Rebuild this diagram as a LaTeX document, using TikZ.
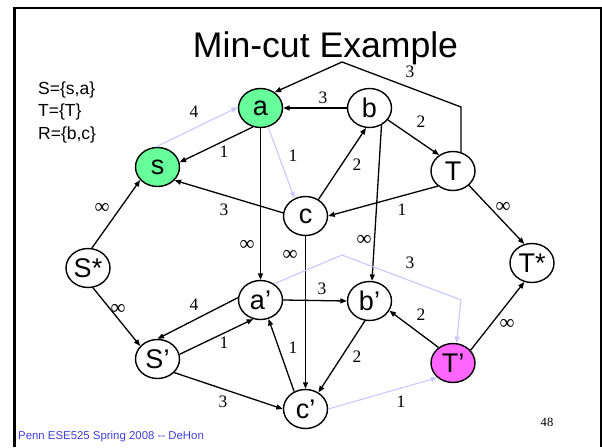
\documentclass[tikz,border=0pt]{standalone}
\usepackage{fontspec}
\setmainfont{Liberation Sans}
\newfontfamily\tms{Liberation Serif}
\usetikzlibrary{shapes.geometric,arrows.meta}
\definecolor{ngreen}{RGB}{102,255,153}
\definecolor{nmag}{RGB}{255,102,255}
\definecolor{lblue}{RGB}{200,200,255}
\definecolor{foot}{RGB}{64,64,224}
\begin{document}
\begin{tikzpicture}[x=1pt,y=-1pt,
 vx/.style={ellipse,draw,line width=1.4pt,minimum width=44pt,minimum height=39pt,inner sep=0pt,font=\fontsize{27}{30}\selectfont},
 ed/.style={line width=1.3pt,-{Triangle[length=6.5pt,width=5pt]}},
 led/.style={line width=1.1pt,draw=lblue,-{Triangle[length=6.5pt,width=5pt]}},
 pl/.style={line width=1.3pt},
 lpl/.style={line width=1.1pt,draw=lblue},
 wt/.style={font=\tms\fontsize{17.5}{20}\selectfont,inner sep=0pt},
 inf/.style={font=\tms\fontsize{21}{22}\selectfont,inner sep=0pt},
 set/.style={font=\fontsize{17.5}{22}\selectfont,inner sep=0pt,anchor=base west}]
\useasboundingbox (0,0) rectangle (602,447);
% frame
\draw[line width=3pt] (14,447) -- (14,7.5);
\draw[line width=2pt] (12.5,7.5) -- (601.5,7.5);
\draw[line width=2pt] (600.5,6.5) -- (600.5,447);
% title
\node[font=\fontsize{35.6}{40}\selectfont,inner sep=0pt,anchor=base] (title) at (325.5,57) {Min-cut Example};
% sets
\node[set] (setS) at (38,94.3) {S=\{s,a\}};
\node[set] (setT) at (38,116.7) {T=\{T\}};
\node[set] (setR) at (38,139) {R=\{b,c\}};
% nodes
\node[vx,fill=ngreen] (a) at (260.5,108) {a};
\node[vx,fill=ngreen] (s) at (157.5,167) {s};
\node[vx] (b) at (369.5,108) {b};
\node[vx] (c) at (305.5,216) {c};
\node[vx] (T) at (453,171) {T};
\node[vx] (Ss) at (88,268) {S*};
\node[vx] (ap) at (260.5,300) {a’};
\node[vx] (bp) at (369.5,301) {b’};
\node[vx] (Sp) at (157.5,359) {S’};
\node[vx] (cp) at (305.5,409) {c’};
\node[vx,fill=nmag] (Tp) at (453,363) {T’};
\node[vx] (Ts) at (532,263) {T*};
% loop corners
\coordinate (k1) at (461,107);
\coordinate (k2) at (342,62);
\coordinate (k3) at (342,255);
\coordinate (k4) at (461,300);
% edges
\draw[led] (s.94) -- (a.178);
\draw[ed] (a.248) -- (s.12);
\draw[led] (a.-68) -- (c.122);
\draw[ed] (c.172) -- (s.-38);
\draw[ed] (Ss.79) -- (s.217);
\draw[ed] (b.west) -- (a.east);
\draw[pl] (T.67) -- (k1) -- (k2);
\draw[ed] (k2) -- (a.48);
\draw[ed] (b.-33) -- (T.131);
\draw[ed] (c.52) -- (b.260);
\draw[ed] (T.225) -- (c.east);
\draw[ed] (T.-42) -- (Ts.112);
\draw[ed] (a.south) -- (ap.north);
\draw[ed] (c.south) -- (cp.north);
\draw[ed] (b.-55) -- (bp.83);
\draw[lpl] (ap.50) -- (k3) -- (k4);
\draw[led] (k4) -- (Tp.80);
\draw[ed] (ap.east) -- (bp.west);
\draw[ed] (ap.174) -- (Sp.north);
\draw[ed] (Sp.12) -- (ap.249);
\draw[ed] (Ss.-76) -- (Sp.143);
\draw[ed] (cp.123) -- (ap.-67);
\draw[ed] (bp.257) -- (cp.52);
\draw[ed] (Tp.133) -- (bp.-26);
\draw[ed] (Tp.36) -- (Ts.248);
\draw[ed] (Sp.-39) -- (cp.west);
\draw[led] (cp.east) -- (Tp.223);
% weights
\node[wt] (w1) at (194,112) {4};
\node[wt] (w2) at (224,152) {1};
\node[wt] (w3) at (293,156) {1};
\node[wt] (w4) at (224,210) {3};
\node[inf] (w5) at (102,208) {∞};
\node[wt] (w6) at (323,98) {3};
\node[wt] (w7) at (410,72) {3};
\node[wt] (w8) at (421,122) {2};
\node[wt] (w9) at (357,165) {2};
\node[wt] (w10) at (402,210) {1};
\node[inf] (w11) at (503,207) {∞};
\node[inf] (w12) at (247,245) {∞};
\node[inf] (w13) at (290,255) {∞};
\node[inf] (w14) at (364,240) {∞};
\node[wt] (w15) at (410,263) {3};
\node[wt] (w16) at (322,289) {3};
\node[wt] (w17) at (194,305) {4};
\node[inf] (w18) at (118,309) {∞};
\node[wt] (w19) at (224,343) {1};
\node[wt] (w20) at (293,348) {1};
\node[wt] (w21) at (421,315) {2};
\node[inf] (w22) at (507,324) {∞};
\node[wt] (w23) at (357,357) {2};
\node[wt] (w24) at (223,402) {3};
\node[wt] (w25) at (401,402) {1};
% page number and footer
\node[font=\tms\fontsize{12.6}{14}\selectfont,inner sep=0pt] (pg) at (547,422) {48};
\node[font=\fontsize{11.4}{13}\selectfont,text=foot,inner sep=0pt,anchor=west] (foot) at (18,437) {Penn ESE525 Spring 2008 {-}{-} DeHon};
\end{tikzpicture}
\end{document}
